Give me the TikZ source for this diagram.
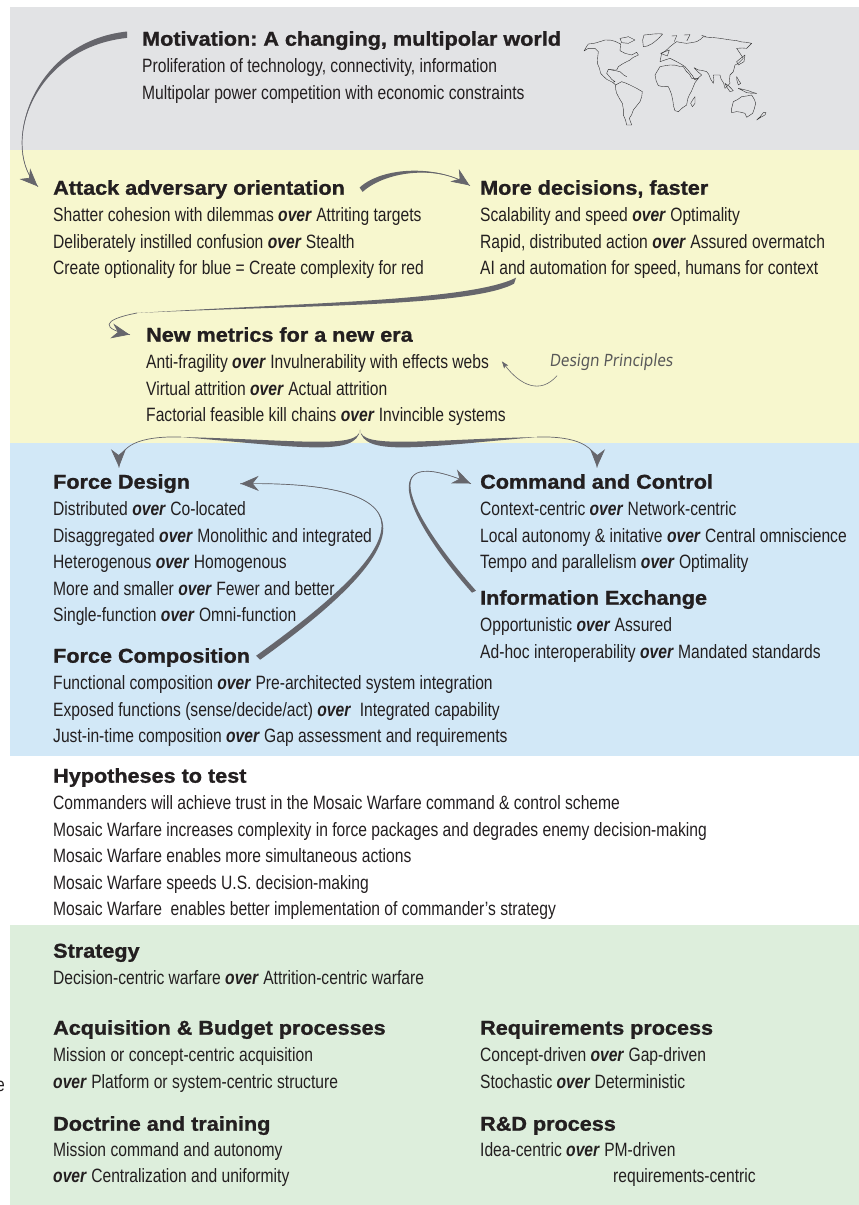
\documentclass[tikz,border=0pt]{standalone}
\usepackage{fontspec}
\setmainfont[FakeStretch=0.81]{Liberation Sans}
\newfontfamily\headfont[FakeStretch=1.08,BoldFeatures={FakeBold=1.2}]{Liberation Sans}
\newfontfamily\notefont[FakeSlant=0.12,FakeStretch=0.9]{Noto Sans}
\usetikzlibrary{arrows.meta, positioning, calc, decorations.pathmorphing, decorations.markings}
\definecolor{motivgray}{HTML}{E2E3E5}
\definecolor{designyellow}{HTML}{F7F7CE}
\definecolor{forceblue}{HTML}{D2E8F7}
\definecolor{strategygreen}{HTML}{DDEEDC}
\definecolor{linkgray}{HTML}{66666C}
\definecolor{inkblack}{HTML}{231F20}
\frenchspacing
\newcommand{\ovr}{\textbf{\textit{over}}}
% tapered connector: from, control, control, to, half thickness at the start
\newcommand{\swoosh}[6]{
\draw[link] #1 .. controls #2 and #3 .. #4;
\fill[linkgray] ($#1+(#5,#6)$) .. controls ($#2+(#5,#6)$) and #3 .. #4 .. controls #3 and ($#2-(#5,#6)$) .. ($#1-(#5,#6)$) -- cycle;
}

\begin{document}
\begin{tikzpicture}[x=1pt,y=-1pt]
\tikzstyle{head} = [anchor=base west, inner sep=0pt, text height=14pt, text depth=4pt, text=inkblack, font=\headfont\bfseries\fontsize{20}{22}\selectfont]
\tikzstyle{body} = [inner sep=0pt, align=left, text=inkblack, font=\fontsize{19.3}{26.5}\selectfont, execute at begin node=\strut]
\tikzstyle{link} = [draw=linkgray, line width=0.7pt, postaction={decorate}, decoration={markings, mark=at position -0.5pt with {\arrow{Stealth[length=18pt,width=15pt,inset=6pt]}}}]
\tikzstyle{coast} = [draw=black!80, line width=0.4pt, line join=round, decorate, decoration={random steps, segment length=5, amplitude=0.6}]
\pgfmathsetseed{7}
\useasboundingbox (0,0) rectangle (859,1205);

% Colour bands
\fill[motivgray] (10,7) rectangle (859,150);
\fill[designyellow] (10,150) rectangle (859,443);
\fill[forceblue] (10,443) rectangle (859,756);
\fill[strategygreen] (10,925) rectangle (859,1205);

% Motivation
\node (motivation) [head] at (142,45.7) {Motivation: A changing, multipolar world};
\node (motivbody) [body, below right=8.5pt and 0pt of motivation.south west] {Proliferation of technology, connectivity, information\\
Multipolar power competition with economic constraints};

% Design principles
\node (attack) [head] at (53,194.7) {Attack adversary orientation};
\node (attackbody) [body, below right=8.5pt and 0pt of attack.south west] {Shatter cohesion with dilemmas \ovr{} Attriting targets\\
Deliberately instilled confusion \ovr{} Stealth\\
Create optionality for blue = Create complexity for red};
\node (decisions) [head] at (480,194.7) {More decisions, faster};
\node (decisionsbody) [body, below right=8.5pt and 0pt of decisions.south west] {Scalability and speed \ovr{} Optimality\\
Rapid, distributed action \ovr{} Assured overmatch\\
AI and automation for speed, humans for context};
\node (metrics) [head] at (146,341.7) {New metrics for a new era};
\node (metricsbody) [body, below right=8.5pt and 0pt of metrics.south west] {Anti-fragility \ovr{} Invulnerability with effects webs\\
Virtual attrition \ovr{} Actual attrition\\
Factorial feasible kill chains \ovr{} Invincible systems};
\node (principles) [inner sep=0pt, text=black!65, font=\notefont\fontsize{17}{20}\selectfont] at (611,362) {Design Principles};

% Force design and command
\node (forcedesign) [head] at (53,488.7) {Force Design};
\node (forcedesignbody) [body, below right=8.5pt and 0pt of forcedesign.south west] {Distributed \ovr{} Co-located\\
Disaggregated \ovr{} Monolithic and integrated\\
Heterogenous \ovr{} Homogenous\\
More and smaller \ovr{} Fewer and better\\
Single-function \ovr{} Omni-function};
\node (composition) [head] at (53,662.7) {Force Composition};
\node (compositionbody) [body, below right=8.5pt and 0pt of composition.south west] {Functional composition \ovr{} Pre-architected system integration\\
Exposed functions (sense/decide/act) \ovr{}\ \ Integrated capability\\
Just-in-time composition \ovr{} Gap assessment and requirements};
\node (command) [head] at (480,488.7) {Command and Control};
\node (commandbody) [body, below right=8.5pt and 0pt of command.south west] {Context-centric \ovr{} Network-centric\\
Local autonomy \& initative \ovr{} Central omniscience\\
Tempo and parallelism \ovr{} Optimality};
\node (exchange) [head] at (480,604.7) {Information Exchange};
\node (exchangebody) [body, below right=8.5pt and 0pt of exchange.south west] {Opportunistic \ovr{} Assured\\
Ad-hoc interoperability \ovr{} Mandated standards};

% Hypotheses
\node (hypotheses) [head] at (53,782.7) {Hypotheses to test};
\node (hypothesesbody) [body, below right=8.5pt and 0pt of hypotheses.south west] {Commanders will achieve trust in the Mosaic Warfare command \& control scheme\\
Mosaic Warfare increases complexity in force packages and degrades enemy decision-making\\
Mosaic Warfare enables more simultaneous actions\\
Mosaic Warfare speeds U.S. decision-making\\
Mosaic Warfare\ \ enables better implementation of commander's strategy};

% Strategy and processes
\node (strategy) [head] at (53,957.7) {Strategy};
\node (strategybody) [body, below right=4pt and 0pt of strategy.south west] {Decision-centric warfare \ovr{} Attrition-centric warfare};
\node (acquisition) [head] at (53,1034.7) {Acquisition \& Budget processes};
\node (acquisitionbody) [body, below right=8.5pt and 0pt of acquisition.south west] {Mission or concept-centric acquisition\\
\ovr{} Platform or system-centric structure};
\node (requirements) [head] at (480,1034.7) {Requirements process};
\node (requirementsbody) [body, below right=8.5pt and 0pt of requirements.south west] {Concept-driven \ovr{} Gap-driven\\
Stochastic \ovr{} Deterministic};
\node (doctrine) [head] at (53,1130.7) {Doctrine and training};
\node (doctrinebody) [body, below right=7pt and 0pt of doctrine.south west] {Mission command and autonomy\\
\ovr{} Centralization and uniformity};
\node (rnd) [head] at (480,1130.7) {R\&D process};
\node (rndbody) [body, below right=7pt and 0pt of rnd.south west] {Idea-centric \ovr{} PM-driven\\
\hspace{133pt}requirements-centric};
\node (stray) [body, anchor=base east] at (5,1091) {e};

% Connectors
\swoosh{([xshift=-15pt,yshift=6pt]motivation.west)}{(30,45)}{(0,150)}{([xshift=-15pt,yshift=3pt]attack.west)}{0}{3.2}
\swoosh{([xshift=16pt]attack.east)}{(385,168)}{(440,165)}{([xshift=-10pt,yshift=4pt]decisions.west)}{1.5}{2.2}
\swoosh{([xshift=-6pt,yshift=8pt]exchange.west)}{(410,520)}{(370,440)}{([xshift=-9pt]command.west)}{2}{-1}
\swoosh{([xshift=8pt]composition.east)}{(380,570)}{(470,480)}{([xshift=50pt]forcedesign.east)}{2}{2}

% Long sweep to the metrics
\coordinate (decisionsfoot) at ([xshift=35pt,yshift=2pt]decisionsbody.south west);
\coordinate (metricshook) at (137,313);
\fill[linkgray] ([shift={(1,-3)}]decisionsfoot) .. controls (470,301) and (300,303) .. (metricshook) .. controls (300,305) and (470,307) .. ([shift={(-1,3)}]decisionsfoot) -- cycle;
\draw[link] (metricshook) .. controls (100,320) and (102,329) .. ([xshift=-16pt,yshift=2pt]metrics.west);

% Brace below the metrics
\coordinate (bracetop) at ([xshift=214pt]metricsbody.south west);
\coordinate (braceleft) at (181,437);
\coordinate (braceright) at (537,437);
\fill[linkgray] (bracetop) .. controls (359,449) and (300,440) .. (braceleft) .. controls (300,447) and (357,457) .. (bracetop) -- cycle;
\fill[linkgray] (bracetop) .. controls (361,449) and (420,440) .. (braceright) .. controls (420,447) and (363,457) .. (bracetop) -- cycle;
\draw[link] (braceleft) .. controls (140,436) and (118,445) .. ([xshift=66pt,yshift=7pt]forcedesign.north west);
\draw[link] (braceright) .. controls (575,436) and (598,445) .. ([xshift=117pt,yshift=7pt]command.north west);

% Note arrow
\draw[draw=linkgray, line width=0.6pt, -{Stealth[length=7pt,width=5pt,inset=1.5pt]}] ([xshift=8pt,yshift=-5pt]principles.south west) .. controls (540,395) and (520,385) .. ([xshift=-4pt,yshift=-7pt]metricsbody.north east);

% World map
\begin{scope}[shift={(570,20)}, x=0.3333pt, y=-0.3333pt]
\draw[coast] (42,93) -- (55,72) -- (80,68) -- (105,60) -- (135,64) -- (152,72) -- (150,92) -- (165,100) -- (185,105) -- (200,97) -- (205,105) -- (190,112) -- (170,125) -- (145,140) -- (140,150) -- (115,148) -- (110,160) -- (125,178) -- (135,185) -- (128,187) -- (110,178) -- (92,160) -- (82,130) -- (85,95) -- (75,85) -- (55,85) -- cycle;
\draw[coast] (128,187) -- (137,195);
\draw[coast] (222,45) -- (278,42) -- (258,62) -- (232,78) -- (220,80) -- (218,60) -- cycle;
\draw[coast] (150,55) -- (175,50) -- (195,60) -- (175,70) -- (155,68) -- cycle;
\draw[coast] (118,148) -- (150,155) -- (170,170);
\draw[coast] (137,195) -- (155,185) -- (180,195) -- (200,205) -- (217,215) -- (210,245) -- (190,270) -- (178,295) -- (185,315) -- (170,315) -- (160,285) -- (157,250) -- (140,220) -- cycle;
\draw[coast] (255,165) -- (270,140) -- (300,135) -- (340,140) -- (365,175) -- (385,175) -- (370,200) -- (358,225) -- (350,255) -- (325,275) -- (315,272) -- (305,225) -- (295,200) -- (265,197) -- cycle;
\draw[coast] (270,125) -- (275,100) -- (300,80) -- (320,65) -- (350,70) -- (380,65) -- (400,50) -- (450,55) -- (500,62) -- (545,70) -- (530,85) -- (500,85) -- (510,100) -- (520,115) -- (505,130) -- (495,135) -- (490,155) -- (480,165) -- (480,190) -- (465,205) -- (450,165) -- (430,165) -- (430,190) -- (410,155) -- (385,150) -- (372,143) -- (395,165) -- (375,180) -- (345,140) -- (320,125) -- (300,115) -- cycle;
\draw[coast] (500,125) -- (525,105) -- (522,125) -- (505,135) -- cycle;
\draw[coast] (362,250) -- (375,230) -- (375,250) -- (367,260) -- cycle;
\draw[coast] (485,265) -- (490,245) -- (515,230) -- (530,228) -- (545,225) -- (557,250) -- (548,280) -- (530,292) -- (525,280) -- (500,275) -- (485,278) -- cycle;
\draw[coast] (560,300) -- (585,285) -- (588,278) -- (580,278) -- cycle;
\draw[coast] (285,95) -- (298,90) -- (292,108) -- (272,100) -- cycle;
\draw[coast] (465,190) -- (490,212) -- (480,215) -- cycle;
\draw[coast] (505,205) -- (535,212) -- (560,220) -- (530,218) -- cycle;
\draw[coast] (500,170) -- (512,190) -- (505,195) -- cycle;
\draw[coast] (305,48) -- (320,47) -- (318,52) -- cycle;
\draw[coast] (342,45) -- (360,44) -- (358,48) -- cycle;
\draw[coast] (395,46) -- (408,50);
\end{scope}

\end{tikzpicture}
\end{document}
